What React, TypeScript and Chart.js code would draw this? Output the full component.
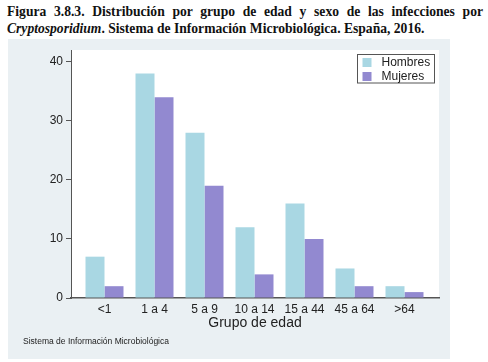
import React, { useEffect, useRef } from "react";
import { Chart, registerables } from "chart.js";

Chart.register(...registerables);

const categories = ["<1", "1 a 4", "5 a 9", "10 a 14", "15 a 44", "45 a 64", ">64"];
const hombres = [7, 38, 28, 12, 16, 5, 2];
const mujeres = [2, 34, 19, 4, 10, 2, 1];
const yTicks = [0, 10, 20, 30, 40];
const seriesNames = ["Hombres", "Mujeres"];
const colors = ["#a9d7e3", "#9289d0"];

const FONT = "'Liberation Sans', Arial, Helvetica, sans-serif";
const PANEL_BG = "#eaf0f3";

const bgAndLegend = {
  id: "bgAndLegend",
  beforeDraw(chart: any) {
    const { ctx, chartArea } = chart;
    ctx.save();
    ctx.fillStyle = "#ffffff";
    ctx.fillRect(chartArea.left, chartArea.top, chartArea.right - chartArea.left, chartArea.bottom - chartArea.top);
    ctx.restore();
  },
  afterDraw(chart: any) {
    const { ctx } = chart;
    const bx = 349.5, by = 15.5, bw = 77, bh = 28.5;
    ctx.save();
    ctx.fillStyle = "#ffffff";
    ctx.fillRect(bx, by, bw, bh);
    ctx.strokeStyle = "#555555";
    ctx.lineWidth = 1;
    ctx.strokeRect(bx, by, bw, bh);
    ctx.font = `12px ${FONT}`;
    ctx.textBaseline = "middle";
    chart.data.datasets.forEach((ds: any, i: number) => {
      const cy = by + 8 + i * 14;
      ctx.fillStyle = ds.backgroundColor;
      ctx.fillRect(bx + 5, cy - 4.5, 9, 9);
      ctx.fillStyle = "#222222";
      ctx.fillText(ds.label, bx + 24, cy + 0.5);
    });
    ctx.restore();
  },
};

export default function App() {
  const ref = useRef<HTMLCanvasElement | null>(null);

  useEffect(() => {
    if (!ref.current) return;
    const chart = new Chart(ref.current, {
      type: "bar",
      data: {
        datasets: [
          {
            label: seriesNames[0],
            data: hombres.map((v, i) => ({ x: i, y: v })),
            backgroundColor: colors[0],
            borderWidth: 0,
            barPercentage: 1,
            categoryPercentage: 0.76,
          },
          {
            label: seriesNames[1],
            data: mujeres.map((v, i) => ({ x: i, y: v })),
            backgroundColor: colors[1],
            borderWidth: 0,
            barPercentage: 1,
            categoryPercentage: 0.76,
          },
        ],
      },
      plugins: [bgAndLegend],
      options: {
        animation: false,
        responsive: false,
        devicePixelRatio: 1,
        layout: { padding: { left: 0, top: 11, right: 11, bottom: 0 } },
        plugins: {
          legend: { display: false },
          tooltip: { enabled: false },
          title: { display: false },
        },
        scales: {
          x: {
            type: "linear",
            offset: false,
            min: -0.67,
            max: 6.69,
            afterBuildTicks: (scale: any) => {
              scale.ticks = categories.map((_, i) => ({ value: i }));
            },
            afterFit: (scale: any) => {
              scale.height = 61;
            },
            ticks: {
              callback: (v: any) => categories[Math.round(Number(v))] ?? "",
              font: { family: FONT, size: 12 },
              color: "#222222",
              padding: 4,
              maxRotation: 0,
              autoSkip: false,
            },
            grid: { display: false, drawTicks: false },
            border: { display: true, color: "#555555", width: 1.5 },
            title: {
              display: true,
              text: "Grupo de edad",
              font: { family: FONT, size: 14 },
              color: "#222222",
              padding: { top: 0, bottom: 27.5 },
            },
          },
          y: {
            min: 0,
            max: 42,
            afterBuildTicks: (scale: any) => {
              scale.ticks = yTicks.map((v) => ({ value: v }));
            },
            afterFit: (scale: any) => {
              scale.width = 63;
            },
            ticks: {
              font: { family: FONT, size: 12 },
              color: "#222222",
              padding: 3,
            },
            grid: {
              display: true,
              drawOnChartArea: false,
              drawTicks: true,
              tickLength: 5,
              color: "#555555",
              lineWidth: 1,
            },
            border: { display: true, color: "#555555", width: 1 },
          },
        },
      },
    } as any);
    return () => chart.destroy();
  }, []);

  return (
    <div
      style={{
        position: "absolute",
        left: 0,
        top: 0,
        width: 488,
        height: 362,
        background: "#ffffff",
        overflow: "hidden",
      }}
    >
      <div
        style={{
          position: "absolute",
          left: 7,
          top: 4,
          width: 476,
          fontFamily: "'Liberation Serif', 'Times New Roman', serif",
          fontWeight: "bold",
          fontSize: 13.6,
          lineHeight: "16.6px",
          color: "#111111",
        }}
      >
        <div style={{ textAlign: "justify", textAlignLast: "justify", whiteSpace: "nowrap" as any }}>
          Figura 3.8.3. Distribución por grupo de edad y sexo de las infecciones por
        </div>
        <div style={{ whiteSpace: "nowrap" }}>
          <i>Cryptosporidium</i>. Sistema de Información Microbiológica. España, 2016.
        </div>
      </div>
      <div
        style={{
          position: "absolute",
          left: 8,
          top: 39,
          width: 442,
          height: 320,
          background: PANEL_BG,
        }}
      >
        <canvas ref={ref} width={442} height={320} style={{ display: "block", width: 442, height: 320 }} />
        <div
          style={{
            position: "absolute",
            left: 15,
            top: 297,
            fontFamily: FONT,
            fontSize: 8.5,
            color: "#222222",
            whiteSpace: "nowrap",
          }}
        >
          Sistema de Información Microbiológica
        </div>
      </div>
    </div>
  );
}
